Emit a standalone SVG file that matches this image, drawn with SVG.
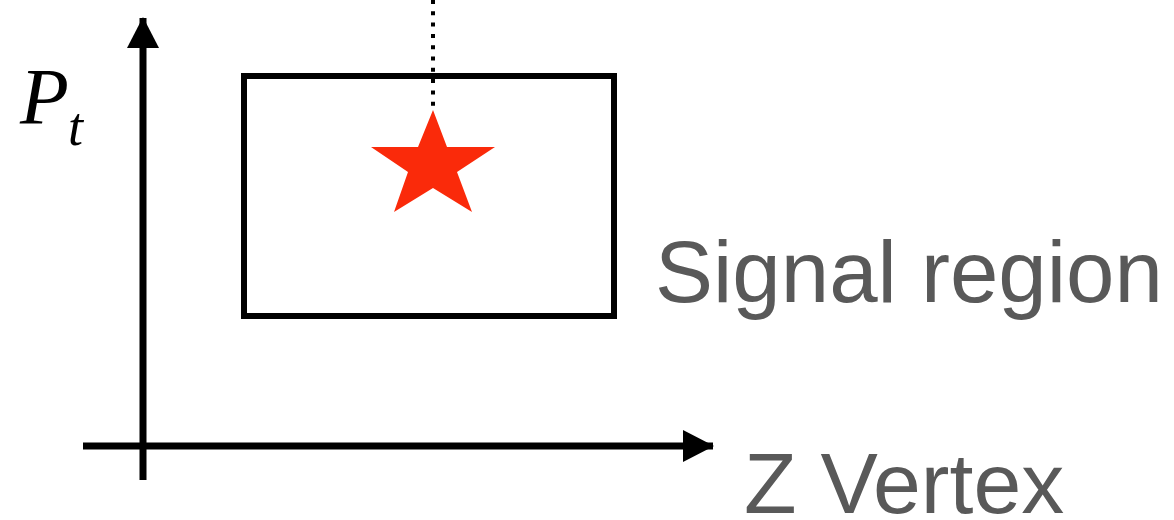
<svg xmlns="http://www.w3.org/2000/svg" width="1174" height="520" viewBox="0 0 1174 520">
<style>
.axis{stroke:#000;stroke-width:7;fill:none}
.lbl{font-family:"Liberation Sans",Arial,sans-serif;fill:#595959}
.math{font-family:"Liberation Serif","Times New Roman",serif;font-style:italic;fill:#000}
</style>
<defs>
<marker id="arr" markerUnits="userSpaceOnUse" markerWidth="32" markerHeight="32" refX="30" refY="16" orient="auto" viewBox="0 0 32 32">
<path d="M0,0 L31,16 L0,32 Z" fill="#000"/>
</marker>
</defs>
<rect width="1174" height="520" fill="#fff"/>
<g id="connectors">
<line class="axis" x1="143" y1="480" x2="143" y2="18" marker-end="url(#arr)"/>
<line class="axis" x1="83" y1="446" x2="713" y2="446" marker-end="url(#arr)"/>
<line x1="433" y1="0" x2="433" y2="112" stroke="#000" stroke-width="4" stroke-dasharray="4 7.3"/>
</g>
<g id="signal-region">
<rect x="244" y="76" width="370" height="240" fill="none" stroke="#000" stroke-width="6"/>
<text class="lbl" x="655" y="302" font-size="87">Signal region</text>
</g>
<g id="star">
<polygon points="433,110 447,147 495,147 457,172 472,212 433,188 394,212 408,172 371,147 418,147" fill="#fa2a0a"/>
</g>
<g id="pt-label">
<text class="math" x="20" y="124" font-size="80">P</text>
<text class="math" x="68" y="145" font-size="54">t</text>
</g>
<g id="z-label">
<text class="lbl" x="744" y="513" font-size="86">Z Vertex</text>
</g>
</svg>
